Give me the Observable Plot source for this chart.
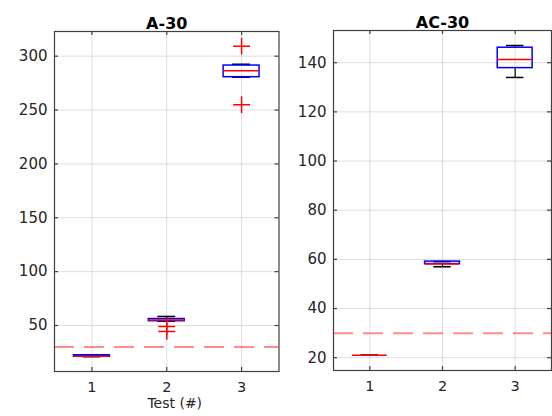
<!DOCTYPE html>
<html>
<head>
<meta charset="utf-8">
<script src="https://cdn.jsdelivr.net/npm/d3@7"></script>
<script src="https://cdn.jsdelivr.net/npm/@observablehq/plot@0.6"></script>
<style>
  html, body { margin: 0; padding: 0; background: #fff; }
  #chart { position: relative; width: 552px; height: 416px; overflow: hidden; }
  #chart > div, #chart > svg { position: absolute; top: 0; }
</style>
</head>
<body>
<div id="chart"></div>
<script>
// ---- data ----
const tests = [1, 2, 3];
const xTicks = [1, 2, 3];
const threshold = 30;

const leftTitle = "A-30";
const leftYTicks = [50, 100, 150, 200, 250, 300];
const leftQ1  = [21, 54, 280.5];
const leftMed = [21.5, 55, 286.4];
const leftQ3  = [22.4, 56, 291.3];
const leftLo  = [21, 54, 280.5];
const leftHi  = [22.6, 58.4, 292.5];
const leftOutTest = [2, 2, 3, 3];
const leftOutVal  = [49, 44.5, 309.3, 255];

const rightTitle = "AC-30";
const rightYTicks = [20, 40, 60, 80, 100, 120, 140];
const rightQ1  = [21, 58.1, 137.8];
const rightMed = [21, 58.1, 141.3];
const rightQ3  = [21, 59.1, 146.1];
const rightLo  = [21, 57, 134];
const rightHi  = [21, 59.1, 147];
const rightOutTest = [];
const rightOutVal  = [];

const xLabel = "Test (#)";

// ---- drawing ----
const FONT = "DejaVu Sans, Liberation Sans, sans-serif";
const BOX_HALF = 0.24, CAP_HALF = 0.12;

function panel(opts) {
  const {width, height, mL, mR, mT, mB, yDomain, yTicks, title, q1, med, q3, lo, hi, outT, outV, label} = opts;
  const boxes = tests.map((t, i) => ({t, q1: q1[i], med: med[i], q3: q3[i], lo: lo[i], hi: hi[i]}));
  const outs = outT.map((t, i) => ({t, v: outV[i]}));
  const fw = width - mL - mR, fh = height - mT - mB;
  const marks = [
    Plot.gridX(xTicks, {stroke: "#000", strokeOpacity: 0.13, strokeWidth: 1}),
    Plot.gridY(yTicks, {stroke: "#000", strokeOpacity: 0.13, strokeWidth: 1}),
    Plot.ruleY([threshold], {stroke: "#ff0000", strokeOpacity: 0.45, strokeWidth: 2, strokeDasharray: "20,10"}),
    // whiskers
    Plot.ruleX(boxes, {x: "t", y1: "q3", y2: "hi", stroke: "#000", strokeWidth: 1.2}),
    Plot.ruleX(boxes, {x: "t", y1: "lo", y2: "q1", stroke: "#000", strokeWidth: 1.2}),
    Plot.ruleY(boxes, {y: "hi", x1: d => d.t - CAP_HALF, x2: d => d.t + CAP_HALF, stroke: "#000", strokeWidth: 1.5}),
    Plot.ruleY(boxes, {y: "lo", x1: d => d.t - CAP_HALF, x2: d => d.t + CAP_HALF, stroke: "#000", strokeWidth: 1.5}),
    // boxes
    Plot.rect(boxes, {x1: d => d.t - BOX_HALF, x2: d => d.t + BOX_HALF, y1: "q1", y2: "q3", fill: "none", stroke: "#0000ff", strokeWidth: 1.5}),
    Plot.ruleY(boxes, {y: "med", x1: d => d.t - BOX_HALF, x2: d => d.t + BOX_HALF, stroke: "#ff0000", strokeWidth: 1.5}),
    // outliers
    Plot.dot(outs, {x: "t", y: "v", symbol: "plus", r: 5.5, stroke: "#ff0000", strokeWidth: 1.5}),
    // frame & inward ticks
    Plot.frame({stroke: "#404040", strokeWidth: 1.2}),
    Plot.tickX(xTicks, {x: d => d, insetTop: fh - 4, stroke: "#404040", strokeWidth: 1.2}),
    Plot.tickX(xTicks, {x: d => d, insetBottom: fh - 4, stroke: "#404040", strokeWidth: 1.2}),
    Plot.tickY(yTicks, {y: d => d, insetRight: fw - 4, stroke: "#404040", strokeWidth: 1.2}),
    Plot.tickY(yTicks, {y: d => d, insetLeft: fw - 4, stroke: "#404040", strokeWidth: 1.2}),
    // axes labels
    Plot.axisX(xTicks, {tickSize: 0, tickPadding: 10, fontSize: 14.5, fill: "#262626", label: null}),
    Plot.axisY(yTicks, {tickSize: 0, tickPadding: 7, fontSize: 15, fill: "#262626", label: null}),
    // title
    Plot.text([title], {frameAnchor: "top", dy: -13.5, fontSize: 16, fontWeight: "bold", fill: "#000"})
  ];
  if (label) marks.push(Plot.text([label], {frameAnchor: "bottom", dy: 36.5, dx: 8, fontSize: 14, fill: "#262626"}));
  return Plot.plot({
    width, height,
    marginLeft: mL, marginRight: mR, marginTop: mT, marginBottom: mB,
    style: {fontFamily: FONT, fontSize: "15px", color: "#262626", background: "transparent", overflow: "visible"},
    x: {domain: [0.5, 3.5]},
    y: {domain: yDomain},
    marks
  });
}

const left = panel({width: 280, height: 416, mL: 54, mR: 1.5, mT: 31, mB: 45,
  yDomain: [7.3, 322.9], yTicks: leftYTicks, title: leftTitle,
  q1: leftQ1, med: leftMed, q3: leftQ3, lo: leftLo, hi: leftHi, outT: leftOutTest, outV: leftOutVal, label: xLabel});
const right = panel({width: 272, height: 416, mL: 53, mR: 1, mT: 30, mB: 46,
  yDomain: [14.8, 153.1], yTicks: rightYTicks, title: rightTitle,
  q1: rightQ1, med: rightMed, q3: rightQ3, lo: rightLo, hi: rightHi, outT: rightOutTest, outV: rightOutVal, label: null});

const chart = document.getElementById("chart");
left.style.left = "0px";
right.style.left = "280px";
chart.appendChild(left);
chart.appendChild(right);
</script>
</body>
</html>
